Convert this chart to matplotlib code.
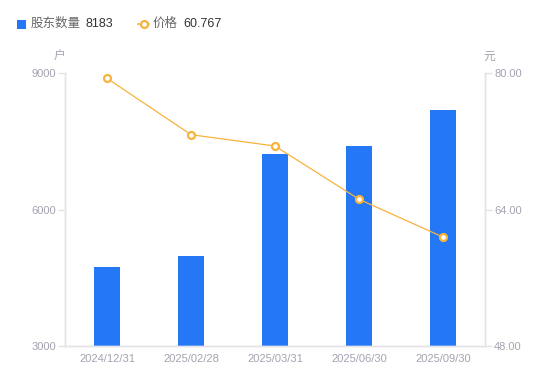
import matplotlib
matplotlib.use('Agg')
import matplotlib.pyplot as plt
from matplotlib.lines import Line2D
from matplotlib.patches import Rectangle

plt.rcParams['font.family'] = ['Liberation Sans', 'Noto Sans CJK SC', 'DejaVu Sans']

dates = ['2024/12/31', '2025/02/28', '2025/03/31', '2025/06/30', '2025/09/30']
holders = [4736, 4971, 7213, 7396, 8183]
prices = [79.38, 72.77, 71.44, 65.20, 60.767]

barColor = '#2478F5'
lineColor = '#F9B23C'
tickColor = '#A3A3B0'
axisColor = '#E3E3E8'

W, H = 550, 381
fig = plt.figure(figsize=(W / 100, H / 100), dpi=100)
ax = fig.add_axes([65 / W, (H - 346) / H, 420 / W, 273 / H])
ax2 = ax.twinx()

xs = list(range(len(dates)))
ax.bar(xs, holders, width=0.3, color=barColor, zorder=2)
ax.set_xlim(-0.5, len(dates) - 0.5)
ax.set_ylim(3000, 9000)
ax.set_yticks([3000, 6000, 9000])
ax.set_xticks(xs)
ax.set_xticklabels(dates)

ax2.plot(xs, prices, color=lineColor, linewidth=0.9, marker='o', markersize=5,
         markerfacecolor='white', markeredgecolor=lineColor, markeredgewidth=1.6, zorder=3)
ax2.set_ylim(48, 80)
ax2.set_yticks([48, 64, 80])
ax2.set_yticklabels(['48.00', '64.00', '80.00'])

for a in (ax, ax2):
    for s in a.spines.values():
        s.set_color(axisColor)
        s.set_linewidth(1)
    a.spines['top'].set_visible(False)
    a.tick_params(axis='y', colors=axisColor, labelcolor=tickColor, labelsize=8, length=5, width=1, pad=1.5)
    a.tick_params(axis='x', length=0, labelcolor=tickColor, labelsize=8, pad=5.5)

# unit labels
fig.text(59 / W, 1 - 57 / H, '户', color=tickColor, fontsize=8.5, ha='center', va='center')
fig.text(489 / W, 1 - 57 / H, '元', color=tickColor, fontsize=8.5, ha='center', va='center')

# legend
ly = 1 - 24 / H
fig.add_artist(Rectangle((17 / W, 1 - 29 / H), 9 / W, 9 / H, transform=fig.transFigure,
                         facecolor=barColor, edgecolor='none'))
fig.text(31 / W, ly, '股东数量', color='#666666', fontsize=9, va='center')
fig.text(85 / W, ly, str(holders[-1]), color='#333333', fontsize=9, va='center')
fig.add_artist(Line2D([138 / W, 149 / W], [ly, ly], transform=fig.transFigure, color=lineColor,
                      linewidth=1.2))
fig.add_artist(Line2D([143.5 / W], [ly], transform=fig.transFigure, marker='o', markersize=5,
                      markerfacecolor='white', markeredgecolor=lineColor, markeredgewidth=1.6))
fig.text(153 / W, ly, '价格', color='#666666', fontsize=9, va='center')
fig.text(183 / W, ly, str(prices[-1]), color='#333333', fontsize=9, va='center')

fig.savefig('out.png', dpi=100)
